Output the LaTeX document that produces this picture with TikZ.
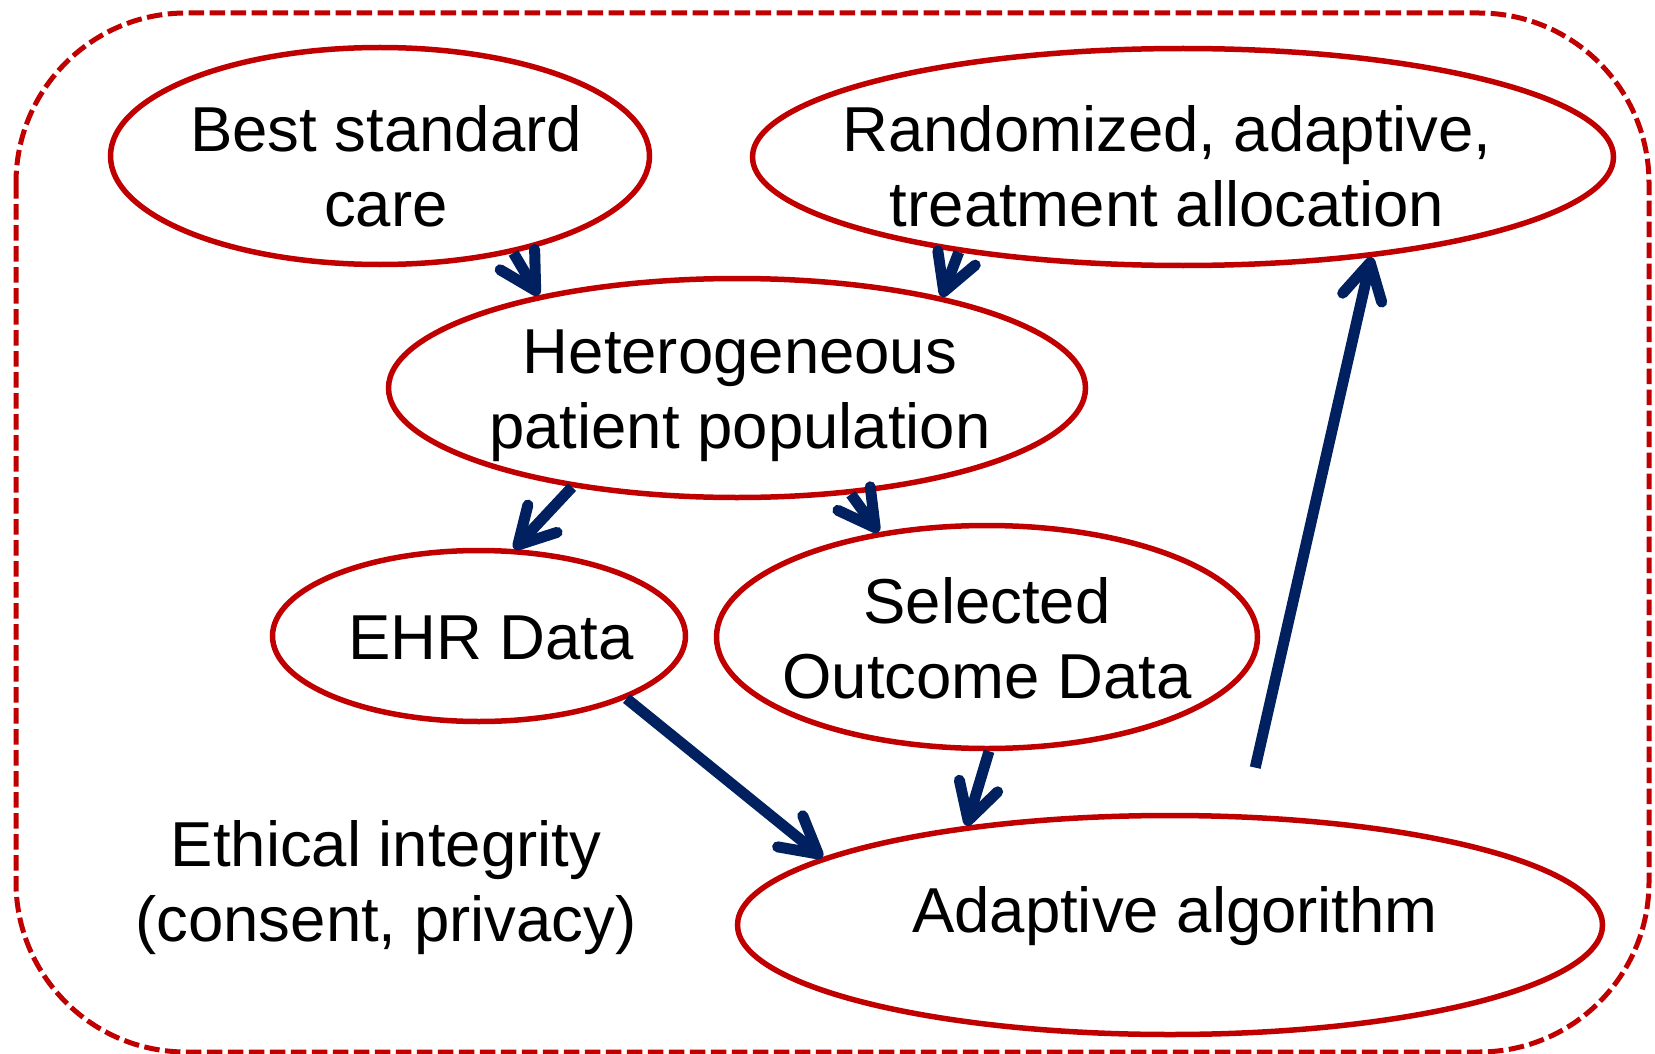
\documentclass[tikz,border=0pt]{standalone}
\usepackage{fontspec}
\setmainfont{Liberation Sans}
\usetikzlibrary{arrows.meta,shapes.geometric}
\definecolor{ovalred}{HTML}{C00000}
\definecolor{arrownavy}{HTML}{002060}
\begin{document}
\begin{tikzpicture}[x=1pt,y=-1pt,
  oval/.style={ellipse, draw=ovalred, line width=5.5pt, inner sep=0pt},
  txt/.style={font=\fontsize{63.5}{75}\selectfont, align=center, inner sep=0pt},
  flow/.style={draw=arrownavy, line width=11pt,
    -{Straight Barb[round,length=36pt,width=40pt]}}]
\useasboundingbox (0,0) rectangle (1655,1054);
% dashed frame round the whole scheme
\draw[ovalred, line width=5pt, dash pattern=on 15.5pt off 5.5pt,
  rounded corners=170pt] (16,13) rectangle (1649,1052);

% ovals
\node[oval, minimum width=539pt, minimum height=217pt] (best)  at (380,156) {};
\node[oval, minimum width=861pt, minimum height=217pt] (rand)  at (1183,157) {};
\node[oval, minimum width=697pt, minimum height=219pt] (het)   at (737,388) {};
\node[oval, minimum width=413pt, minimum height=171pt] (ehr)   at (479,636) {};
\node[oval, minimum width=541pt, minimum height=223pt] (sel)   at (987,637) {};
\node[oval, minimum width=865pt, minimum height=219pt] (adapt) at (1170,925) {};

% texts
\node[txt] (bestT)  at (386,166) {Best standard\\care};
\node[txt] (randT)  at (1167,166) {Randomized, adaptive,\\treatment allocation};
\node[txt] (hetT)   at (740,396) {Heterogeneous\\patient population};
\node[txt] (ehrT)   at (491,638) {EHR Data};
\node[txt] (selT)   at (987,638) {Selected\\Outcome Data};
\node[txt] (adaptT) at (1175,916) {Adaptive algorithm};
\node[txt] (ethics) at (386,888) {Ethical integrity\\(consent, privacy)};

% connectors
\draw[flow] (best.-36.1) -- (het.155.4);
\draw[flow] (rand.-157) -- (het.24.9);
\draw[flow] (het.211.9) -- (ehr.68.3);
\draw[flow] (het.-43.1) -- (sel.136.3);
\draw[flow] (ehr.-23.6) -- (adapt.169.6);
\draw[flow] (sel.-89.5) -- (adapt.154.9);
\draw[flow, shorten <=48pt] (adapt.56) -- (rand.-28);
\end{tikzpicture}
\end{document}
